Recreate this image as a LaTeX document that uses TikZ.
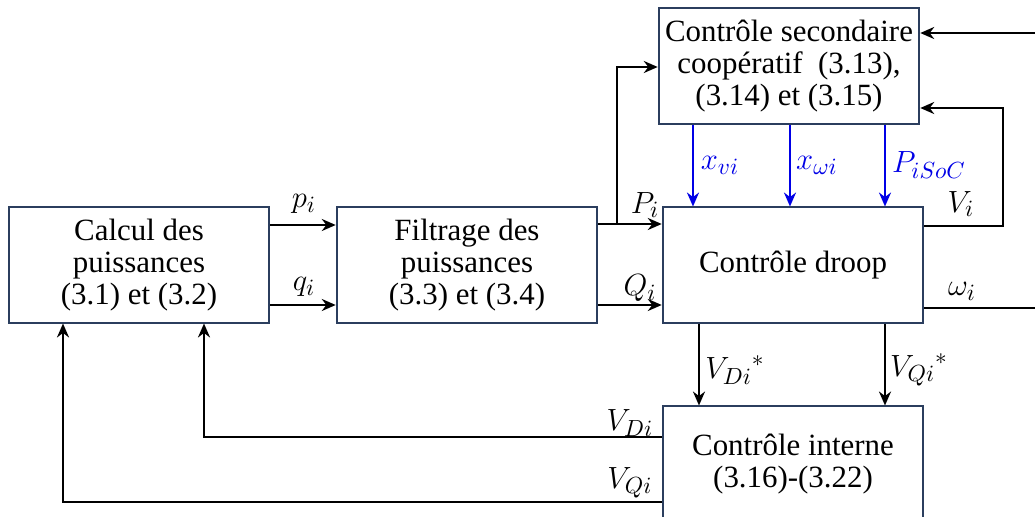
\documentclass[tikz,border=0pt]{standalone}
\usepackage{fontspec}
\setmainfont{Liberation Serif}
\usetikzlibrary{arrows.meta,calc}
\definecolor{rahmen}{HTML}{2B3E5E}
\definecolor{signal}{HTML}{0000E6}
\tikzset{
  block/.style={draw=rahmen,line width=0.9pt,fill=white,align=center,minimum width=4.3cm,minimum height=1.9cm,inner sep=2pt,font=\fontsize{14.5}{15}\selectfont},
  pfeil/.style={-{Stealth[length=2.3mm,width=2mm]},line width=0.8pt},
  pfeilb/.style={pfeil,signal},
  leitung/.style={line width=0.8pt},
  lbl/.style={inner sep=1pt,font=\fontsize{15.5}{16}\selectfont},
  lblb/.style={lbl,signal},
}
\begin{document}
\begin{tikzpicture}[x=0.0165cm,y=-0.0165cm]
  \clip (0,0) rectangle (1035,517);
  % blocks
  \node[block] (calc) at (139,265) {Calcul des\\puissances\\(3.1) et (3.2)};
  \node[block] (filt) at (467,265) {Filtrage des\\puissances\\(3.3) et (3.4)};
  \node[block] (droop) at (793,265) {Contrôle droop};
  \node[block] (sek) at (789,66) {Contrôle secondaire\\coopératif\ \ (3.13),\\(3.14) et (3.15)};
  \node[block] (intern) at (793,464) {Contrôle interne\\(3.16)-(3.22)};
  % forward path
  \draw[pfeil] (calc.east |- 0,225) -- (filt.west |- 0,225);
  \draw[pfeil] (calc.east |- 0,305) -- (filt.west |- 0,305);
  \node[lbl] (lp) at (304,204) {$p_i$};
  \node[lbl] (lq) at (304,287) {$q_i$};
  \draw[pfeil] (filt.east |- 0,224) -- (droop.west |- 0,224);
  \draw[pfeil] (filt.east |- 0,305) -- (droop.west |- 0,305);
  \node[lbl] (lP) at (645,205) {$P_i$};
  \node[lbl] (lQ) at (640,288) {$Q_i$};
  \coordinate (abzw) at (617,224);
  \draw[pfeil] (abzw) |- (sek.west |- 0,67);
  % secondary signals
  \draw[pfeilb] (sek.south -| 693,0) -- (droop.north -| 693,0);
  \draw[pfeilb] (sek.south -| 790,0) -- (droop.north -| 790,0);
  \draw[pfeilb] (sek.south -| 885,0) -- (droop.north -| 885,0);
  \node[lblb] (lxv) at (720,165) {$x_{vi}$};
  \node[lblb] (lxw) at (817,165) {$x_{\omega i}$};
  \node[lblb] (lsoc) at (929,165) {$P_{iSoC}$};
  % outputs of droop
  \draw[pfeil] (droop.east |- 0,226) -- (1003,226) |- (sek.east |- 0,108);
  \node[lbl] (lV) at (961,204) {$V_i$};
  \coordinate (eingang) at (1035,33);
  \draw[pfeil] (eingang) -- (sek.east |- eingang);
  \coordinate (ausgang) at (1035,308);
  \draw[leitung] (droop.east |- ausgang) -- (ausgang);
  \node[lbl] (lw) at (962,291) {$\omega_i$};
  % references to inner loop
  \draw[pfeil] (droop.south -| 699,0) -- (intern.north -| 699,0);
  \draw[pfeil] (droop.south -| 885,0) -- (intern.north -| 885,0);
  \node[lbl] (lvd) at (735,370) {${V_{Di}}^{*}$};
  \node[lbl] (lvq) at (919,370) {${V_{Qi}}^{*}$};
  % measurements back
  \draw[pfeil] (intern.west |- 0,437) -| (calc.south -| 204,0);
  \draw[pfeil] (intern.west |- 0,502) -| (calc.south -| 63,0);
  \node[lbl] (lmd) at (630,423) {$V_{Di}$};
  \node[lbl] (lmq) at (630,483) {$V_{Qi}$};
\end{tikzpicture}
\end{document}
